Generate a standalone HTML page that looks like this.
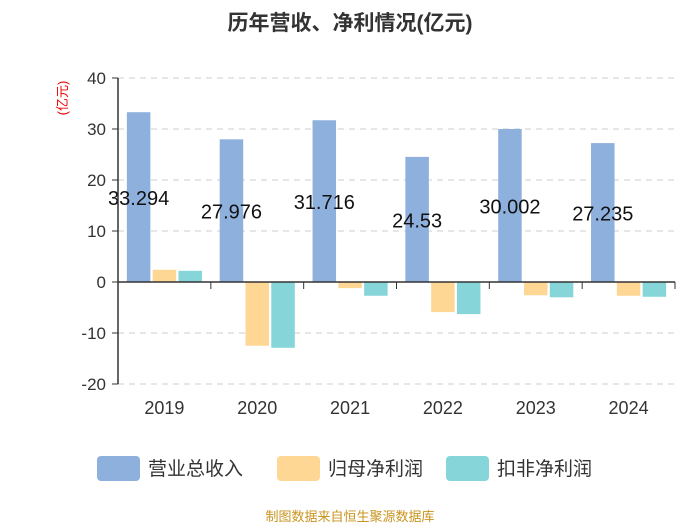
<!DOCTYPE html>
<html><head><meta charset="utf-8"><style>
body{margin:0;background:#fff;font-family:"Liberation Sans","Noto Sans CJK SC",sans-serif}
</style></head><body>
<svg id="c" width="700" height="525" xmlns="http://www.w3.org/2000/svg" font-family="Liberation Sans, Noto Sans CJK SC, sans-serif">
<text x="350" y="30" text-anchor="middle" font-size="21" font-weight="bold" fill="#333">历年营收、净利情况(亿元)</text>
<text transform="translate(67,98) rotate(-90)" text-anchor="middle" font-size="13" fill="#e00">(亿元)</text>
<g id="grid"></g><g id="bars"></g><g id="axes"></g>
<g>
<rect x="97" y="456" width="43" height="25" rx="4" fill="#8eb0dd"/>
<text x="148" y="475" font-size="19" fill="#333">营业总收入</text>
<rect x="277" y="456" width="43" height="25" rx="4" fill="#fed795"/>
<text x="328" y="475" font-size="19" fill="#333">归母净利润</text>
<rect x="446" y="456" width="43" height="25" rx="4" fill="#86d6d9"/>
<text x="497" y="475" font-size="19" fill="#333">扣非净利润</text>
</g>
<text x="350" y="521" text-anchor="middle" font-size="13" fill="#c8941e">制图数据来自恒生聚源数据库</text>
</svg>
<script>
const categories=["2019","2020","2021","2022","2023","2024"];
const revenue=[33.294,27.976,31.716,24.53,30.002,27.235];
const netProfit=[2.4,-12.5,-1.2,-5.9,-2.6,-2.7];
const deducted=[2.2,-12.9,-2.7,-6.3,-3.0,-2.9];
const yTicks=[40,30,20,10,0,-10,-20];
const ns="http://www.w3.org/2000/svg";
const L=118,R=675,yMax=40,yMin=-20,T=78,B=384;
const y=v=>T+(yMax-v)/(yMax-yMin)*(B-T);
const cw=(R-L)/categories.length;
function mk(t,a,p){const e=document.createElementNS(ns,t);for(const k in a)e.setAttribute(k,a[k]);p.appendChild(e);return e;}
const grid=document.getElementById('grid'),bars=document.getElementById('bars'),axes=document.getElementById('axes');
yTicks.forEach(v=>{
 if(v!==0){const g=mk('line',{x1:L,x2:R,y1:y(v),y2:y(v),stroke:'#ccc','stroke-dasharray':'6,5'},grid);
 }
 const tk=mk('line',{x1:L-6,x2:L,y1:y(v),y2:y(v),stroke:'#333'},axes);
 
 const t=mk('text',{x:L-12,y:y(v)+6,'text-anchor':'end','font-size':'17',fill:'#333'},axes);t.textContent=v;
 
});
const ya=mk('line',{x1:L,x2:L,y1:T,y2:B,stroke:'#333','stroke-width':1.5},axes);

const xa=mk('line',{x1:L,x2:R,y1:y(0),y2:y(0),stroke:'#333','stroke-width':1.5},axes);

const series=[[revenue,'#8eb0dd','revenue'],[netProfit,'#fed795','net-profit'],[deducted,'#86d6d9','deducted-profit']];
const bw=23.5,gap=2.3;
categories.forEach((c,i)=>{
 const x0=L+i*cw;
 const tk=mk('line',{x1:x0+cw,x2:x0+cw,y1:y(0),y2:y(0)+7,stroke:'#333'},axes);
 
 const t=mk('text',{x:x0+cw/2,y:414,'text-anchor':'middle','font-size':'18',fill:'#333'},axes);t.textContent=c;
 
 const gx=x0+cw/2-(3*bw+2*gap)/2;
 series.forEach((s,j)=>{
  const v=s[0][i],bx=gx+j*(bw+gap);
  const r=mk('rect',{x:bx,y:Math.min(y(v),y(0)),width:bw,height:Math.abs(y(v)-y(0)),fill:s[1]},bars);
  
 });
 const lt=mk('text',{x:gx+bw/2,y:(y(revenue[i])+y(0))/2+8,'text-anchor':'middle','font-size':'20',fill:'#111'},bars);
 lt.textContent=revenue[i];
 
});
</script>
</body></html>
